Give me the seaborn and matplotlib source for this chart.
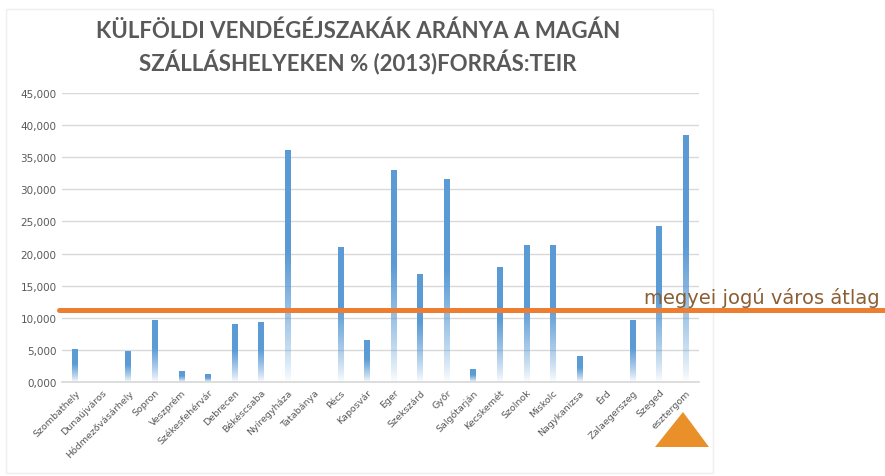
import numpy as np
import pandas as pd
import matplotlib
matplotlib.use("Agg")
import matplotlib.pyplot as plt
import matplotlib.colors as mcolors
from matplotlib.patches import Polygon, Rectangle
import seaborn as sns

# data (% of foreign guest nights)
cities = ["Szombathely", "Dunaújváros", "Hódmezővásárhely", "Sopron", "Veszprém",
          "Székesfehérvár", "Debrecen", "Békéscsaba", "Nyíregyháza", "Tatabánya",
          "Pécs", "Kaposvár", "Eger", "Szekszárd", "Győr", "Salgótarján",
          "Kecskemét", "Szolnok", "Miskolc", "Nagykanizsa", "Érd",
          "Zalaegerszeg", "Szeged", "esztergom"]
share = [5.1, 0.0, 4.7, 9.5, 1.6, 1.2, 9.0, 9.3, 36.0, 0.0,
         21.0, 6.4, 32.9, 16.8, 31.5, 1.9, 17.9, 21.3, 21.2, 4.0,
         0.0, 9.6, 24.2, 38.4]
average = 11.15
average_label = "megyei jogú város átlag"
title = "KÜLFÖLDI VENDÉGÉJSZAKÁK ARÁNYA A MAGÁN\nSZÁLLÁSHELYEKEN % (2013)FORRÁS:TEIR"
yticks = [0, 5, 10, 15, 20, 25, 30, 35, 40, 45]

df = pd.DataFrame({"city": cities, "share": share})

sns.set_theme(style="white")
plt.rcParams['font.family'] = ['DejaVu Sans']

fig = plt.figure(figsize=(8.85, 4.77), dpi=100)
ax = fig.add_axes([62 / 885, 1 - 383 / 477, 637 / 885, 289 / 477])

bar_blue = "#5B9BD5"
sns.barplot(data=df, x="city", y="share", color=bar_blue, width=0.22,
            saturation=1, ax=ax)

# swap the flat bars for a blue -> white vertical gradient (Excel style)
rgb = mcolors.to_rgb(bar_blue)
n = 512
f = np.linspace(0, 1, n)  # 0 at bottom, 1 at top
alpha = np.clip(f / 0.55, 0, 1) ** 0.8
grad = np.zeros((n, 1, 4))
grad[:, 0, :3] = rgb
grad[:, 0, 3] = alpha
for p in ax.patches:
    h = p.get_height()
    if h <= 0:
        p.set_visible(False)
        continue
    x0 = p.get_x()
    w = p.get_width()
    ax.imshow(grad, extent=[x0, x0 + w, 0, h], origin="lower",
              aspect="auto", zorder=2, interpolation="bilinear")
    p.set_visible(False)

ax.set_xlim(-0.5, len(cities) - 0.5)
ax.set_ylim(0, 45)
ax.set_yticks(yticks)
ax.set_yticklabels([f"{v},000" for v in yticks], fontsize=7.5, color="#595959")
ax.yaxis.grid(True, color="#D9D9D9", linewidth=1)
ax.set_axisbelow(True)
for s in ["top", "right", "left"]:
    ax.spines[s].set_visible(False)
ax.spines["bottom"].set_color("#D9D9D9")
ax.tick_params(axis="both", length=0, pad=4)
ax.set_xlabel("")
ax.set_ylabel("")
ax.set_xticks(range(len(cities)))
ax.set_xticklabels(cities, rotation=45, ha="right", rotation_mode="anchor",
                   fontsize=6.8, color="#595959")

# county-town average line, running past the plot to the figure edge
ax.axhline(average, xmin=-0.005, xmax=(885 - 62) / 637, color="#ED7D31",
           linewidth=3.6, clip_on=False, zorder=3)
fig.text(880 / 885, 1 - 304 / 477, average_label, ha="right", va="baseline",
         fontsize=14, color="#8B5E34")

fig.suptitle(title, x=358 / 885, y=1 - 20 / 477, va="top", fontsize=16,
             fontweight="bold", color="#595959", linespacing=1.4,
             family=["Lato", "DejaVu Sans"])

# frame of the chart area and the orange marker
fig.patches.append(Rectangle((6 / 885, 1 - 474 / 477), 707 / 885, 464 / 477,
                             transform=fig.transFigure, fill=False,
                             edgecolor="#EFEFEF", linewidth=1, zorder=-5))
fig.patches.append(Polygon([(655 / 885, 1 - 448 / 477), (709 / 885, 1 - 448 / 477),
                            (683 / 885, 1 - 413 / 477)],
                           closed=True, transform=fig.transFigure,
                           facecolor="#EA902A", edgecolor="none"))

fig.savefig("out.png", dpi=100)
